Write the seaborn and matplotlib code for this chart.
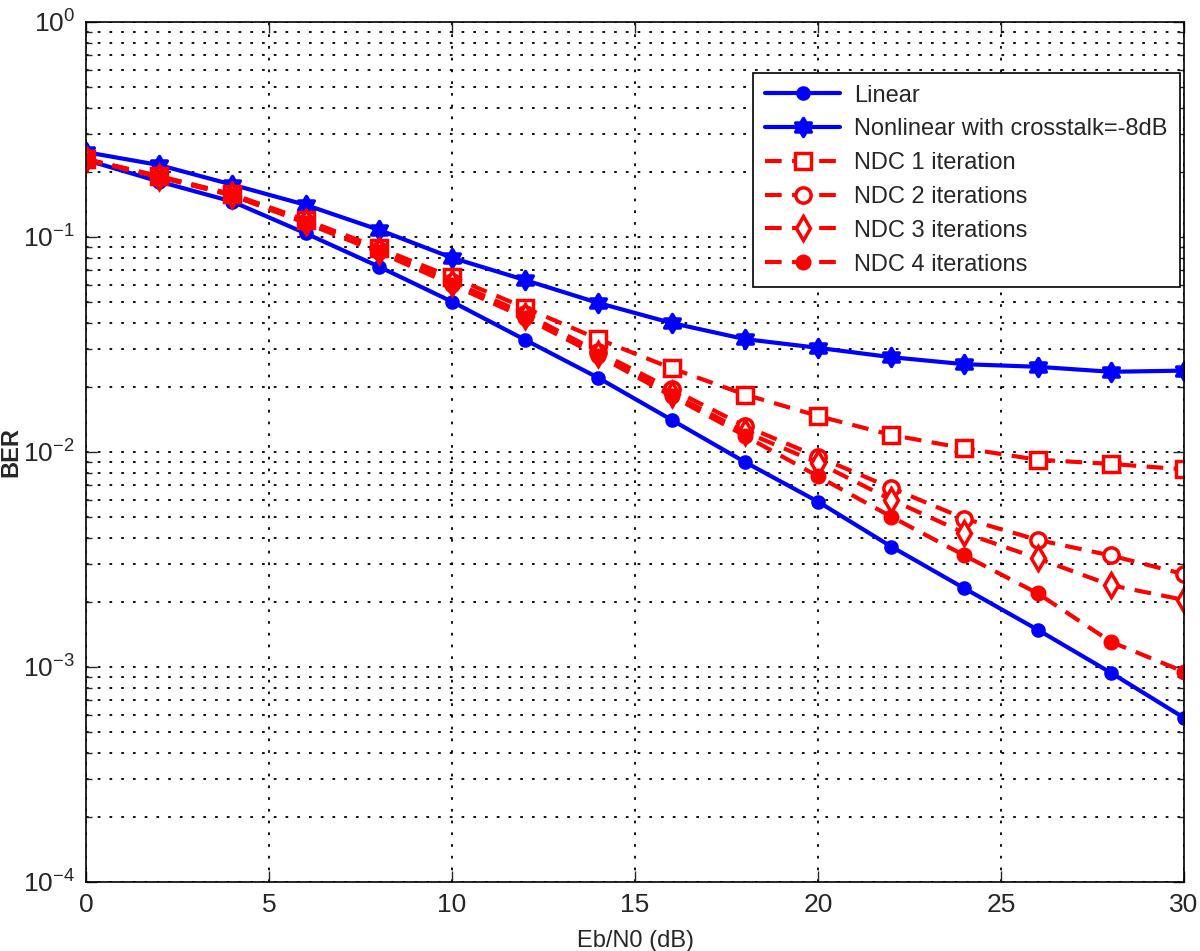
import numpy as np
import pandas as pd
import seaborn as sns
import matplotlib as mpl
import matplotlib.pyplot as plt
from matplotlib.path import Path
from matplotlib.ticker import LogLocator, NullFormatter

# Eb/N0 in dB and BER
ebn0 = [0, 2, 4, 6, 8, 10, 12, 14, 16, 18, 20, 22, 24, 26, 28, 30]
ber_linear = [0.228, 0.181, 0.146, 0.104, 0.0728, 0.050, 0.0332, 0.0221, 0.0141, 0.00898,
              0.00587, 0.00363, 0.00232, 0.00149, 0.00094, 0.00058]
ber_nonlinear = [0.248, 0.216, 0.175, 0.141, 0.108, 0.080, 0.063, 0.0493, 0.0398, 0.0335,
                 0.0305, 0.0276, 0.0256, 0.0249, 0.0236, 0.0239]
ber_ndc1 = [0.230, 0.192, 0.158, 0.120, 0.089, 0.065, 0.0468, 0.0335, 0.0245, 0.0185,
            0.0147, 0.0120, 0.0104, 0.0092, 0.0088, 0.0083]
ber_ndc2 = [0.230, 0.191, 0.157, 0.118, 0.087, 0.062, 0.044, 0.0292, 0.0196, 0.0132,
            0.0095, 0.0068, 0.0049, 0.0039, 0.0033, 0.0027]
ber_ndc3 = [0.230, 0.190, 0.156, 0.117, 0.086, 0.061, 0.043, 0.0285, 0.0187, 0.0124,
            0.0089, 0.0060, 0.0042, 0.0032, 0.0024, 0.00205]
ber_ndc4 = [0.229, 0.190, 0.156, 0.116, 0.085, 0.060, 0.042, 0.0280, 0.0182, 0.0119,
            0.0077, 0.0050, 0.0033, 0.0022, 0.00131, 0.00095]

labels = ['Linear', 'Nonlinear with crosstalk=-8dB', 'NDC 1 iteration',
          'NDC 2 iterations', 'NDC 3 iterations', 'NDC 4 iterations']
series = [ber_linear, ber_nonlinear, ber_ndc1, ber_ndc2, ber_ndc3, ber_ndc4]

sns.set_style('ticks')
plt.rcParams['font.family'] = ['Liberation Sans', 'DejaVu Sans']
plt.rcParams['mathtext.fontset'] = 'custom'
plt.rcParams['mathtext.rm'] = 'Liberation Sans'
plt.rcParams['mathtext.it'] = 'Liberation Sans:italic'
plt.rcParams['mathtext.bf'] = 'Liberation Sans:bold'

blue = (0, 0, 1)
red = (1, 0, 0)
dash = (0, (4, 2.5))
# matlab-like hexagram (fatter than matplotlib's built-in star)
hexagram = Path.unit_regular_star(6, 0.577)
styles = [
    dict(color=blue, linestyle='-', marker='o', markersize=8, markerfacecolor=blue),
    dict(color=blue, linestyle='-', marker=hexagram, markersize=13, markerfacecolor=blue),
    dict(color=red, linestyle=dash, marker='s', markersize=11, markerfacecolor='white'),
    dict(color=red, linestyle=dash, marker='o', markersize=11, markerfacecolor='white'),
    dict(color=red, linestyle=dash, marker='d', markersize=12, markerfacecolor='white'),
    dict(color=red, linestyle=dash, marker='o', markersize=9, markerfacecolor=red),
]

fig, ax = plt.subplots(figsize=(12, 9.51), dpi=100)
fig.subplots_adjust(left=0.0717, right=0.9867, top=0.9769, bottom=0.0726)

for lab, vals, st in zip(labels, series, styles):
    df = pd.DataFrame({'ebn0': ebn0, 'ber': vals})
    sns.lineplot(data=df, x='ebn0', y='ber', ax=ax, label=lab, linewidth=3,
                 markeredgecolor=st['color'], markeredgewidth=2.5, **st)

ax.set_yscale('log')
ax.set_xlim(0, 30)
ax.set_ylim(1e-4, 1)
ax.set_xticks([0, 5, 10, 15, 20, 25, 30])
ax.yaxis.set_major_locator(LogLocator(base=10, numticks=10))
ax.yaxis.set_minor_locator(LogLocator(base=10, subs=np.arange(2, 10), numticks=20))
ax.yaxis.set_minor_formatter(NullFormatter())

grid_ls = (0, (1.5, 5))
ax.grid(True, which='major', axis='both', color='black', linestyle=grid_ls, linewidth=1.3)
ax.grid(True, which='minor', axis='y', color='black', linestyle=grid_ls, linewidth=1.3)

ax.tick_params(which='both', direction='in', top=True, right=True, labelsize=19, width=1)
ax.tick_params(which='major', length=8, pad=8)
ax.tick_params(which='minor', length=4)
for sp in ax.spines.values():
    sp.set_linewidth(1.2)
    sp.set_color('black')

ax.set_xlabel('Eb/N0 (dB)', fontsize=17, labelpad=9)
ax.set_ylabel('BER', fontsize=17, fontweight='bold')
ax.yaxis.set_label_coords(-0.058, 0.5)

leg = ax.legend(loc='upper right', bbox_to_anchor=(0.996, 0.941), borderaxespad=0,
                fontsize=17, handlelength=3.2, labelspacing=0.5, fancybox=False,
                framealpha=1, edgecolor='black', borderpad=0.5, handletextpad=0.6)
leg.get_frame().set_linewidth(1.2)

plt.savefig('out.png', dpi=100)
